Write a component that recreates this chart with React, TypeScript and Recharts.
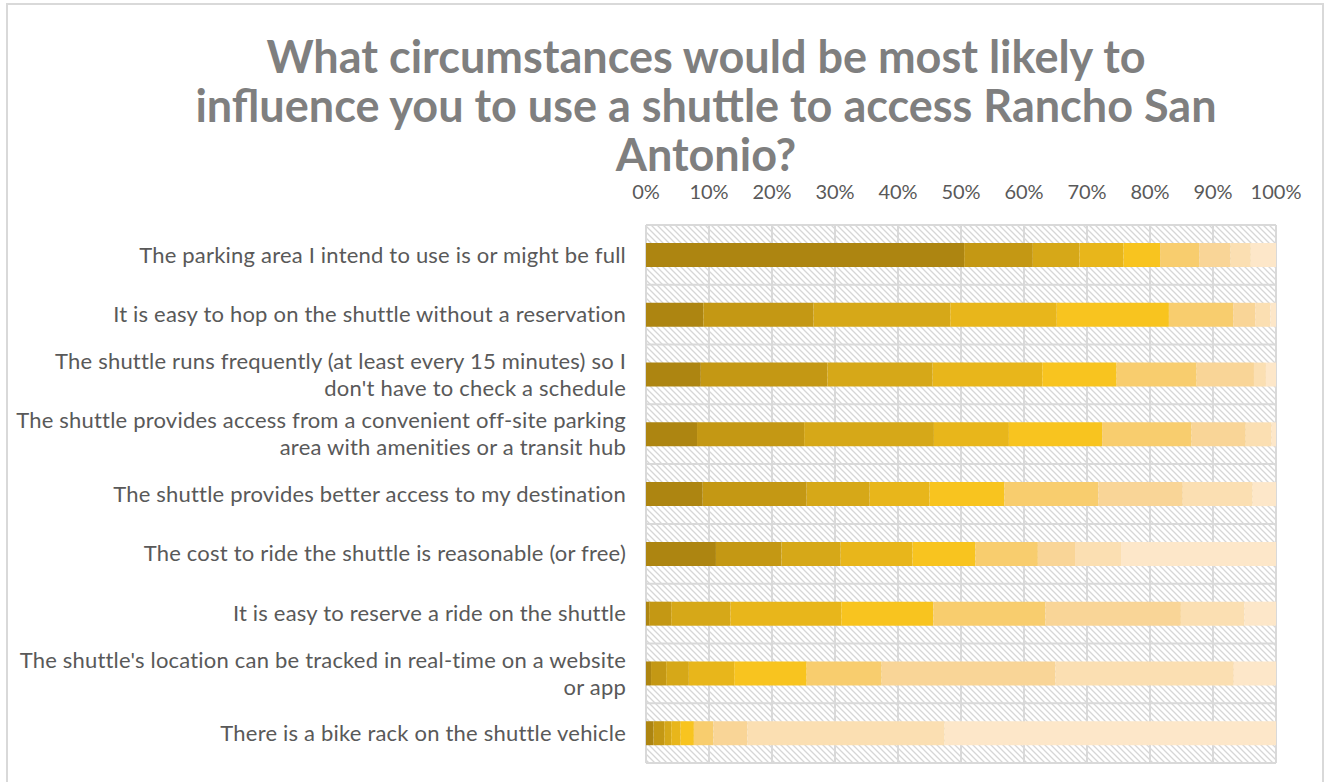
import React from "react";
import { BarChart, Bar, XAxis, YAxis, CartesianGrid } from "recharts";

const titleLines = [
  "What circumstances would be most likely to",
  "influence you to use a shuttle to access Rancho San",
  "Antonio?",
];

const categories = [
  "The parking area I intend to use is or might be full",
  "It is easy to hop on the shuttle without a reservation",
  "The shuttle runs frequently (at least every 15 minutes) so I\ndon't have to check a schedule",
  "The shuttle provides access from a convenient off-site parking\narea with amenities or a transit hub",
  "The shuttle provides better access to my destination",
  "The cost to ride the shuttle is reasonable (or free)",
  "It is easy to reserve a ride on the shuttle",
  "The shuttle's location can be tracked in real-time on a website\nor app",
  "There is a bike rack on the shuttle vehicle",
];

const s1 = [50.5, 9.1, 8.7, 8.1, 9.0, 11.1, 0.5, 0.8, 1.2];
const s2 = [10.9, 17.5, 20.1, 17.0, 16.5, 10.4, 3.5, 2.4, 1.7];
const s3 = [7.4, 21.7, 16.7, 20.6, 10.0, 9.4, 9.4, 3.6, 1.1];
const s4 = [7.0, 16.9, 17.4, 11.9, 9.5, 11.4, 17.6, 7.2, 1.5];
const s5 = [5.8, 17.8, 11.8, 14.8, 11.9, 10.0, 14.6, 11.5, 2.1];
const s6 = [6.2, 10.2, 12.7, 14.2, 14.9, 9.9, 17.8, 11.9, 3.1];
const s7 = [5.0, 3.5, 9.1, 8.6, 13.4, 5.9, 21.5, 27.6, 5.4];
const s8 = [3.2, 2.4, 1.9, 4.1, 11.1, 7.3, 10.1, 28.3, 31.3];
const s9 = [4.0, 0.9, 1.6, 0.7, 3.7, 24.6, 5.0, 6.7, 52.6];

const series = [s1, s2, s3, s4, s5, s6, s7, s8, s9];
const seriesKeys = ["s1", "s2", "s3", "s4", "s5", "s6", "s7", "s8", "s9"];
const colors = [
  "#AD8511",
  "#C49814",
  "#D6A818",
  "#E8B61B",
  "#F8C41F",
  "#F8CD6E",
  "#F9D597",
  "#FBDFB2",
  "#FDE7C9",
];
const xTicks = [0, 10, 20, 30, 40, 50, 60, 70, 80, 90, 100];

const data = categories.map((name, i) => {
  const row: Record<string, number | string> = { name };
  seriesKeys.forEach((k, j) => {
    row[k] = series[j][i];
  });
  return row;
});

const FONT = "Lato, 'Open Sans', sans-serif";

const CategoryTick = (props: any) => {
  const { x, y, payload } = props;
  const lines = String(payload.value).split("\n");
  const lh = 27;
  const start = -((lines.length - 1) * lh) / 2;
  return (
    <text
      x={x}
      y={y}
      textAnchor="end"
      fill="#595959"
      fontSize={22}
      fontFamily={FONT}
      letterSpacing={0.2}
    >
      {lines.map((l, i) => (
        <tspan key={i} x={x} y={y + start + i * lh} dy="0.35em">
          {l}
        </tspan>
      ))}
    </text>
  );
};

export default function App() {
  return (
    <div
      style={{
        position: "absolute",
        left: 0,
        top: 0,
        width: 1330,
        height: 782,
        overflow: "hidden",
        background: "#fff",
      }}
    >
      <div
        style={{
          position: "absolute",
          left: 6,
          top: 3,
          width: 1318,
          height: 820,
          border: "2px solid #D9D9D9",
          boxSizing: "border-box",
        }}
      />
      <div
        style={{
          position: "absolute",
          left: 106,
          top: 32,
          width: 1200,
          textAlign: "center",
          fontFamily: FONT,
          fontWeight: 700,
          fontSize: 45,
          lineHeight: "49px",
          color: "#7F7F7F",
        }}
      >
        {titleLines.map((l, i) => (
          <div key={i}>{l}</div>
        ))}
      </div>
      <div style={{ position: "absolute", left: 0, top: 0 }}>
        <BarChart
          width={1330}
          height={782}
          data={data}
          layout="vertical"
          margin={{ top: 185, right: 54, bottom: 19, left: 0 }}
          barSize={24}
        >
          <defs>
            <pattern
              id="hatch"
              width="6"
              height="6"
              patternUnits="userSpaceOnUse"
            >
              <rect width="6" height="6" fill="#FFFFFF" />
              <path
                d="M-1,-1 L7,7 M-4,2 L1,7 M2,-4 L7,1"
                stroke="#D6D6D6"
                strokeWidth="1.3"
              />
            </pattern>
          </defs>
          <CartesianGrid
            fill="url(#hatch)"
            stroke="#D9D9D9"
            strokeWidth={2}
            horizontalCoordinatesGenerator={(p: any) => {
              const top = p.offset.top;
              const h = p.offset.height;
              return categories
                .map((_, i) => top + (i * h) / categories.length)
                .concat([top + h]);
            }}
          />
          <XAxis
            type="number"
            orientation="top"
            domain={[0, 100]}
            ticks={xTicks}
            tickFormatter={(v: number) => `${v}%`}
            axisLine={false}
            tickLine={false}
            tickMargin={20}
            height={40}
            tick={{ fill: "#595959", fontSize: 20, fontFamily: FONT }}
            interval={0}
          />
          <YAxis
            type="category"
            dataKey="name"
            width={646}
            axisLine={false}
            tickLine={false}
            tickMargin={14}
            tick={<CategoryTick />}
            interval={0}
          />
          {seriesKeys.map((k, j) => (
            <Bar
              key={k}
              dataKey={k}
              stackId="a"
              fill={colors[j]}
              isAnimationActive={false}
            />
          ))}
        </BarChart>
      </div>
    </div>
  );
}
